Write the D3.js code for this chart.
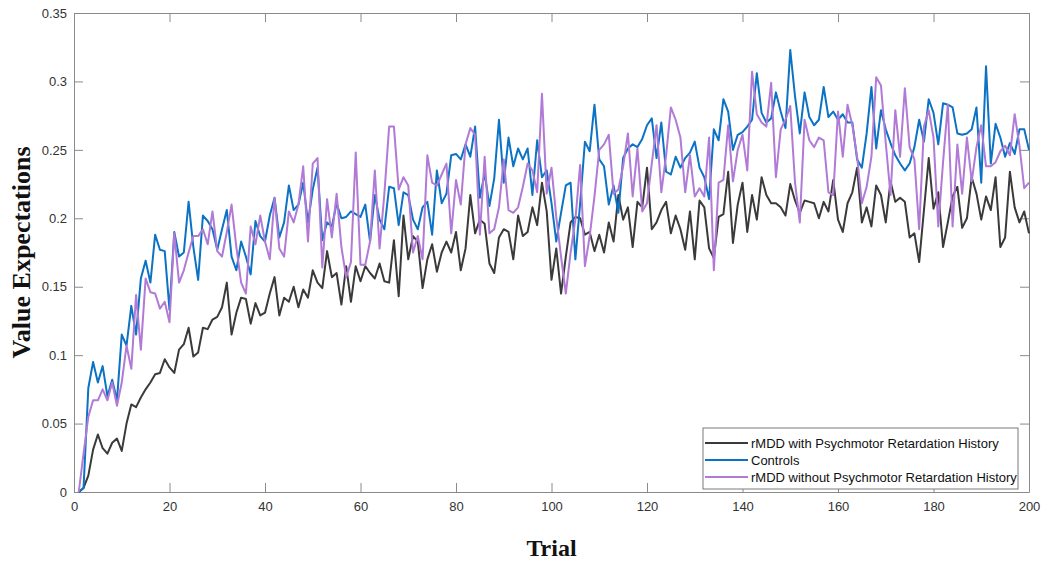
<!DOCTYPE html>
<html>
<head>
<meta charset="utf-8">
<script src="https://cdn.jsdelivr.net/npm/d3@7"></script>
<style>
  body { margin: 0; background: #fff; }
  svg { display: block; }
  .tick text { font-family: "Liberation Sans", Arial, sans-serif; font-size: 13px; fill: #333; }
  .axlabel { font-family: "Liberation Serif", "Times New Roman", serif; font-weight: bold; font-size: 24px; fill: #111; }
  .legend text { font-family: "Liberation Sans", Arial, sans-serif; font-size: 13px; fill: #111; }
</style>
</head>
<body>
<div id="chart"></div>
<script>
// trials 1..200
var seriesNames = ["rMDD with Psychmotor Retardation History", "Controls", "rMDD without Psychmotor Retardation History"];
var seriesColors = ["#3a3a3a", "#0b72c4", "#b07ad6"];

var withPR = [
  0, 0.003, 0.012, 0.031, 0.042, 0.032, 0.028, 0.036, 0.039, 0.030,
  0.050, 0.064, 0.062, 0.069, 0.075, 0.080, 0.086, 0.087, 0.097, 0.091,
  0.087, 0.104, 0.108, 0.120, 0.099, 0.102, 0.120, 0.119, 0.126, 0.128,
  0.135, 0.153, 0.115, 0.131, 0.142, 0.141, 0.123, 0.138, 0.129, 0.131,
  0.145, 0.157, 0.129, 0.142, 0.139, 0.150, 0.135, 0.148, 0.142, 0.162,
  0.153, 0.149, 0.176, 0.157, 0.160, 0.137, 0.165, 0.139, 0.165, 0.154,
  0.165, 0.160, 0.156, 0.167, 0.154, 0.153, 0.184, 0.143, 0.202, 0.170,
  0.187, 0.183, 0.149, 0.170, 0.181, 0.161, 0.175, 0.183, 0.175, 0.190,
  0.162, 0.178, 0.217, 0.189, 0.199, 0.196, 0.167, 0.160, 0.186, 0.192,
  0.190, 0.170, 0.202, 0.187, 0.190, 0.208, 0.195, 0.226, 0.205, 0.155,
  0.178, 0.145, 0.172, 0.197, 0.201, 0.200, 0.188, 0.190, 0.176, 0.188,
  0.175, 0.197, 0.183, 0.217, 0.199, 0.208, 0.179, 0.212, 0.208, 0.237,
  0.192, 0.197, 0.206, 0.212, 0.189, 0.202, 0.192, 0.177, 0.205, 0.170,
  0.213, 0.208, 0.178, 0.171, 0.201, 0.203, 0.234, 0.182, 0.210, 0.226,
  0.190, 0.217, 0.199, 0.230, 0.217, 0.211, 0.211, 0.208, 0.202, 0.225,
  0.213, 0.204, 0.213, 0.212, 0.211, 0.200, 0.212, 0.205, 0.228, 0.199,
  0.190, 0.211, 0.219, 0.237, 0.197, 0.208, 0.194, 0.224, 0.217, 0.197,
  0.227, 0.212, 0.215, 0.212, 0.186, 0.189, 0.168, 0.206, 0.244, 0.207,
  0.219, 0.179, 0.197, 0.216, 0.223, 0.193, 0.200, 0.230, 0.218, 0.199,
  0.216, 0.206, 0.230, 0.179, 0.186, 0.234, 0.208, 0.197, 0.205, 0.189
];

var controls = [
  0, 0.003, 0.076, 0.095, 0.080, 0.092, 0.070, 0.082, 0.067, 0.115,
  0.107, 0.136, 0.115, 0.156, 0.169, 0.153, 0.188, 0.177, 0.176, 0.133,
  0.190, 0.172, 0.175, 0.212, 0.179, 0.155, 0.202, 0.198, 0.192, 0.177,
  0.192, 0.206, 0.172, 0.162, 0.183, 0.172, 0.159, 0.198, 0.187, 0.183,
  0.202, 0.215, 0.186, 0.197, 0.224, 0.206, 0.210, 0.226, 0.197, 0.221,
  0.237, 0.184, 0.197, 0.194, 0.211, 0.200, 0.201, 0.205, 0.203, 0.201,
  0.210, 0.183, 0.217, 0.199, 0.192, 0.223, 0.222, 0.195, 0.219, 0.217,
  0.199, 0.192, 0.208, 0.212, 0.188, 0.235, 0.211, 0.218, 0.246, 0.247,
  0.243, 0.254, 0.245, 0.267, 0.215, 0.233, 0.209, 0.229, 0.272, 0.226,
  0.259, 0.238, 0.251, 0.243, 0.251, 0.217, 0.257, 0.230, 0.235, 0.211,
  0.183, 0.204, 0.224, 0.226, 0.170, 0.211, 0.256, 0.249, 0.283, 0.243,
  0.238, 0.210, 0.224, 0.204, 0.244, 0.251, 0.254, 0.252, 0.258, 0.268,
  0.273, 0.244, 0.270, 0.234, 0.232, 0.245, 0.237, 0.244, 0.248, 0.256,
  0.237, 0.230, 0.214, 0.265, 0.257, 0.287, 0.278, 0.250, 0.261, 0.263,
  0.267, 0.272, 0.306, 0.277, 0.270, 0.273, 0.292, 0.278, 0.266, 0.323,
  0.289, 0.262, 0.292, 0.274, 0.268, 0.272, 0.296, 0.274, 0.278, 0.272,
  0.276, 0.270, 0.270, 0.243, 0.237, 0.262, 0.296, 0.251, 0.279, 0.265,
  0.255, 0.246, 0.240, 0.235, 0.240, 0.252, 0.272, 0.256, 0.287, 0.277,
  0.254, 0.284, 0.283, 0.281, 0.262, 0.261, 0.262, 0.265, 0.281, 0.226,
  0.311, 0.240, 0.269, 0.259, 0.245, 0.255, 0.247, 0.265, 0.265, 0.250
];

var withoutPR = [
  0, 0.028, 0.055, 0.067, 0.067, 0.075, 0.067, 0.080, 0.063, 0.080,
  0.107, 0.090, 0.144, 0.104, 0.156, 0.146, 0.145, 0.134, 0.139, 0.124,
  0.189, 0.153, 0.162, 0.175, 0.187, 0.187, 0.192, 0.181, 0.205, 0.176,
  0.172, 0.190, 0.210, 0.179, 0.153, 0.145, 0.194, 0.181, 0.202, 0.183,
  0.170, 0.215, 0.178, 0.172, 0.205, 0.197, 0.210, 0.238, 0.183, 0.240,
  0.244, 0.164, 0.214, 0.186, 0.218, 0.179, 0.157, 0.168, 0.248, 0.166,
  0.166, 0.183, 0.235, 0.178, 0.218, 0.267, 0.267, 0.221, 0.230, 0.224,
  0.175, 0.187, 0.170, 0.246, 0.226, 0.224, 0.232, 0.240, 0.189, 0.228,
  0.210, 0.254, 0.266, 0.261, 0.188, 0.245, 0.189, 0.192, 0.208, 0.243,
  0.206, 0.204, 0.208, 0.223, 0.240, 0.235, 0.219, 0.291, 0.218, 0.237,
  0.201, 0.172, 0.145, 0.175, 0.199, 0.239, 0.165, 0.187, 0.216, 0.250,
  0.254, 0.261, 0.218, 0.221, 0.238, 0.262, 0.216, 0.251, 0.205, 0.211,
  0.240, 0.268, 0.219, 0.246, 0.281, 0.272, 0.259, 0.219, 0.246, 0.216,
  0.222, 0.216, 0.259, 0.162, 0.226, 0.228, 0.268, 0.227, 0.250, 0.261,
  0.235, 0.307, 0.276, 0.270, 0.267, 0.299, 0.230, 0.265, 0.272, 0.282,
  0.226, 0.197, 0.272, 0.257, 0.252, 0.259, 0.257, 0.219, 0.217, 0.278,
  0.245, 0.283, 0.268, 0.245, 0.211, 0.223, 0.245, 0.303, 0.297, 0.255,
  0.217, 0.279, 0.245, 0.295, 0.252, 0.243, 0.192, 0.267, 0.279, 0.259,
  0.194, 0.241, 0.283, 0.194, 0.254, 0.218, 0.259, 0.227, 0.252, 0.268,
  0.238, 0.238, 0.241, 0.249, 0.253, 0.246, 0.276, 0.253, 0.222, 0.226
];

var xTicks = [0, 20, 40, 60, 80, 100, 120, 140, 160, 180, 200];
var yTicks = [0, 0.05, 0.1, 0.15, 0.2, 0.25, 0.3, 0.35];

var W = 1050, H = 564;
var margin = {top: 13, right: 21, bottom: 72, left: 74};
var width = W - margin.left - margin.right,
    height = H - margin.top - margin.bottom;

var svg = d3.select("#chart").append("svg")
    .attr("width", W)
    .attr("height", H);

var g = svg.append("g")
    .attr("transform", "translate(" + margin.left + "," + margin.top + ")");

var x = d3.scaleLinear().domain([0, 200]).range([0, width]);
var y = d3.scaleLinear().domain([0, 0.35]).range([height, 0]);

var axisColor = "#8a8a8a";

// axes, ticks pointing inward like matlab
g.append("g")
    .attr("transform", "translate(0," + height + ")")
    .call(d3.axisBottom(x).tickValues(xTicks).tickSizeInner(-9).tickSizeOuter(0).tickPadding(10).tickFormat(d3.format("d")));
g.append("g")
    .call(d3.axisLeft(y).tickValues(yTicks).tickSizeInner(-9).tickSizeOuter(0).tickPadding(7).tickFormat(function(d) { return d === 0 ? "0" : d3.format("")(+d.toFixed(2)); }));
g.append("g")
    .attr("transform", "translate(" + width + ",0)")
    .call(d3.axisRight(y).tickValues(yTicks).tickSizeInner(-9).tickSizeOuter(0).tickFormat(""));
g.append("g")
    .call(d3.axisTop(x).tickValues(xTicks).tickSizeInner(-9).tickSizeOuter(0).tickFormat(""));

g.selectAll(".domain").attr("stroke", axisColor);
g.selectAll(".tick line").attr("stroke", axisColor);

var allSeries = [withPR, controls, withoutPR];

var line = d3.line()
    .x(function(d, i) { return x(i + 1); })
    .y(function(d) { return y(d); });

// black first, then blue, purple on top
[0, 1, 2].forEach(function(k) {
  g.append("path")
    .datum(allSeries[k])
    .attr("fill", "none")
    .attr("stroke", seriesColors[k])
    .attr("stroke-width", 2)
    .attr("stroke-linejoin", "round")
    .attr("d", line);
});

// legend
var legend = g.append("g")
    .attr("class", "legend")
    .attr("transform", "translate(" + (703 - margin.left) + "," + (428 - margin.top) + ")");

legend.append("rect")
    .attr("width", 315)
    .attr("height", 61)
    .attr("fill", "#fff")
    .attr("stroke", "#7a7a7a")
    .attr("stroke-width", 1);

seriesNames.forEach(function(name, i) {
  var row = legend.append("g").attr("transform", "translate(0," + (15 + i * 17) + ")");
  row.append("line")
    .attr("x1", 2).attr("x2", 45)
    .attr("stroke", seriesColors[i])
    .attr("stroke-width", 2);
  row.append("text")
    .attr("x", 48)
    .attr("dy", "0.35em")
    .text(name);
});

// axis titles
svg.append("text")
    .attr("class", "axlabel")
    .attr("text-anchor", "middle")
    .style("font-size", "26px")
    .attr("transform", "translate(30," + (margin.top + height / 2) + ") rotate(-90)")
    .text("Value Expectations");

svg.append("text")
    .attr("class", "axlabel")
    .attr("text-anchor", "middle")
    .attr("x", margin.left + width / 2)
    .attr("y", 556)
    .text("Trial");
</script>
</body>
</html>
